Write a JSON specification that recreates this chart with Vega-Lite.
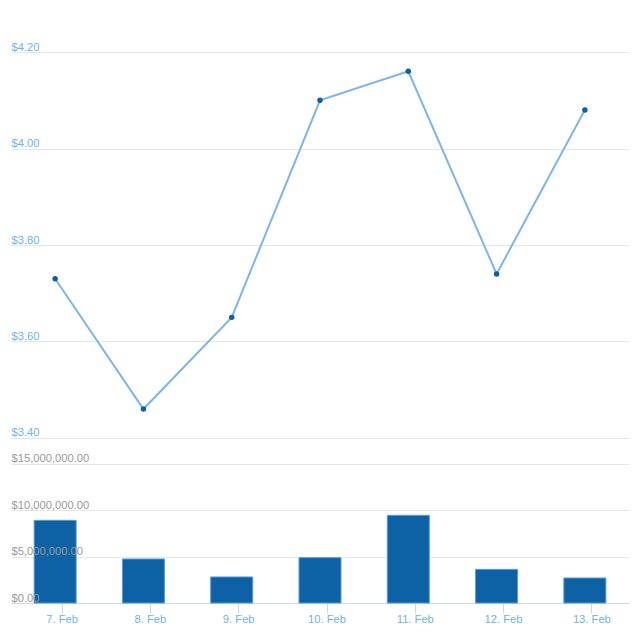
{
  "$schema": "https://vega.github.io/schema/vega-lite/v6.json",
  "width": 640,
  "height": 640,
  "autosize": {"type": "fit", "contains": "padding"},
  "padding": {"left": 11, "right": 11, "top": 0, "bottom": 15},
  "config": {
    "view": {"stroke": null},
    "font": "Liberation Sans",
    "axis": {"labelFont": "Liberation Sans", "labelFontSize": 11.2}
  },
  "data": {
    "values": [
      {"day": "7. Feb", "price": 3.73, "volume": 8920000},
      {"day": "8. Feb", "price": 3.46, "volume": 4750000},
      {"day": "9. Feb", "price": 3.65, "volume": 2810000},
      {"day": "10. Feb", "price": 4.10, "volume": 4890000},
      {"day": "11. Feb", "price": 4.16, "volume": 9460000},
      {"day": "12. Feb", "price": 3.74, "volume": 3630000},
      {"day": "13. Feb", "price": 4.08, "volume": 2700000}
    ]
  },
  "encoding": {
    "x": {
      "field": "day",
      "type": "ordinal",
      "sort": null,
      "scale": {"type": "band", "paddingInner": 0.524, "paddingOuter": 0.262},
      "axis": {
        "title": null,
        "orient": "bottom",
        "labelAngle": 0,
        "labelColor": "#6cb4ec",
        "labelPadding": 0,
        "tickSize": 10,
        "tickColor": "#ccd6eb",
        "domainColor": "#ccd6eb",
        "grid": false,
        "bandPosition": 0.5,
        "tickOffset": 6.5
      }
    }
  },
  "layer": [
    {
      "mark": {"type": "bar", "fill": "#0d62a6", "stroke": "#5b9bd9", "strokeWidth": 1},
      "encoding": {
        "y": {
          "field": "volume",
          "type": "quantitative",
          "scale": {"domain": [0, 65070000], "nice": false, "zero": false},
          "axis": {
            "title": null,
            "orient": "left",
            "values": [0, 5000000, 10000000, 15000000],
            "labels": false,
            "ticks": false,
            "tickSize": 0,
            "domain": false,
            "grid": true,
            "gridColor": "#e6e6e6",
            "zindex": 0
          }
        }
      }
    },
    {
      "mark": {"type": "bar", "opacity": 0},
      "encoding": {
        "y": {
          "field": "volume",
          "type": "quantitative",
          "scale": {"domain": [0, 65070000], "nice": false, "zero": false},
          "axis": {
            "title": null,
            "orient": "left",
            "values": [0, 5000000, 10000000, 15000000],
            "format": "$,.2f",
            "labelAlign": "left",
            "labelBaseline": "alphabetic",
            "labelOffset": -2,
            "labelPadding": 0,
            "labelColor": "#999999",
            "labelOverlap": false,
            "labelFlush": false,
            "ticks": false,
            "tickSize": 0,
            "domain": false,
            "grid": false,
            "zindex": 1
          }
        }
      }
    },
    {
      "encoding": {
        "y": {
          "field": "price",
          "type": "quantitative",
          "scale": {"domain": [3.058, 4.3078], "nice": false, "zero": false},
          "axis": {
            "title": null,
            "orient": "left",
            "values": [3.4, 3.6, 3.8, 4.0, 4.2],
            "format": "$,.2f",
            "labelAlign": "left",
            "labelBaseline": "alphabetic",
            "labelOffset": -2,
            "labelPadding": 0,
            "labelColor": "#6cb4ec",
            "labelOverlap": false,
            "labelFlush": false,
            "ticks": false,
            "tickSize": 0,
            "domain": false,
            "grid": true,
            "gridColor": "#e6e6e6"
          }
        }
      },
      "layer": [
        {"mark": {"type": "line", "color": "#7cb5ec", "strokeWidth": 2}},
        {"mark": {"type": "point", "filled": true, "color": "#0d5ea8", "opacity": 1, "size": 30}}
      ]
    }
  ],
  "resolve": {"scale": {"y": "independent"}, "axis": {"y": "independent"}}
}
